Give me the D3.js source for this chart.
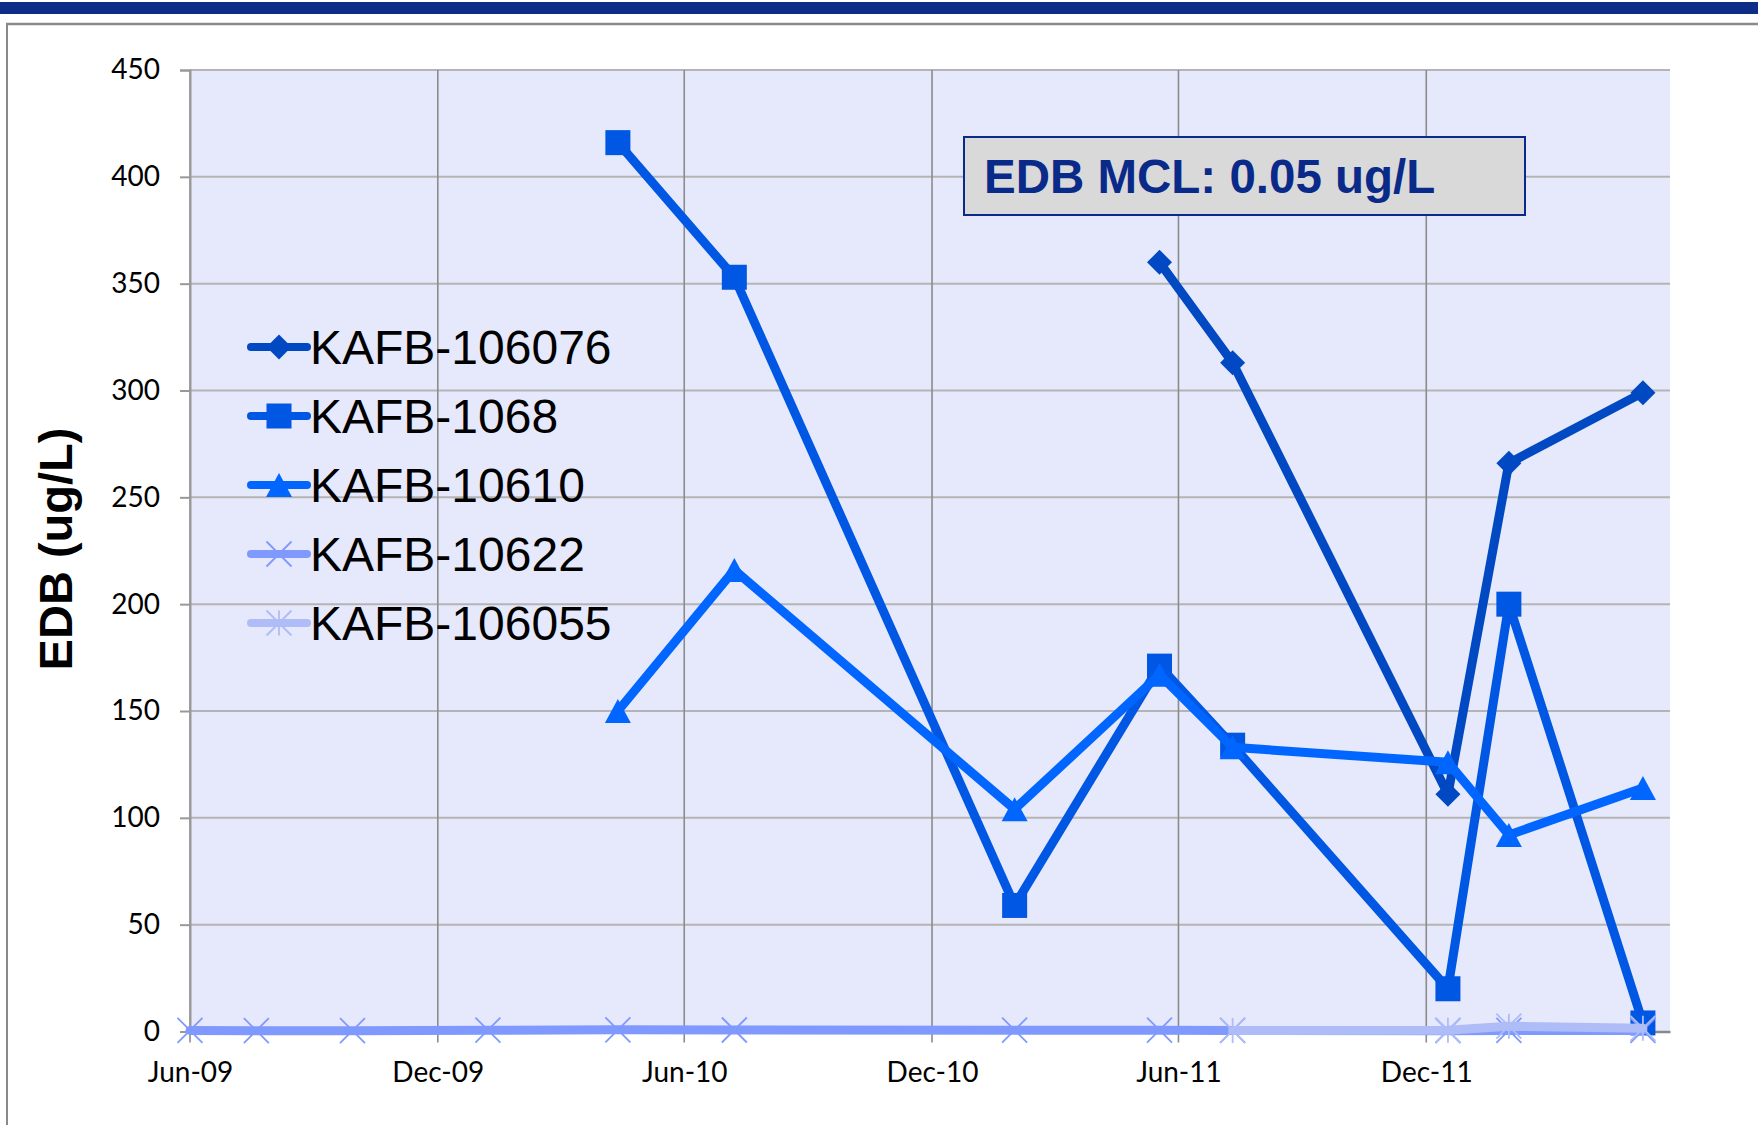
<!DOCTYPE html>
<html>
<head>
<meta charset="utf-8">
<script src="https://cdn.jsdelivr.net/npm/d3@7"></script>
<style>
html,body{margin:0;padding:0;background:#fff;}
svg{display:block;}
</style>
</head>
<body>
<svg id="chart" width="1758" height="1125"></svg>
<script>
// ---- data ----
const sampleDates = ["2009-06-01","2009-07-20","2009-09-29","2010-01-07","2010-04-13","2010-07-08",
                     "2011-01-31","2011-05-18","2011-07-11","2011-12-17","2012-01-31","2012-05-09"];
const seriesNames = ["KAFB-106076","KAFB-1068","KAFB-10610","KAFB-10622","KAFB-106055"];
const kafb106076 = [null,null,null,null,null,null,null,360,313,111,266,299];
const kafb1068   = [null,null,null,null,416,353,59,171,134,20,200,4];
const kafb10610  = [null,null,null,null,150,216,104,167,133,126,92,114];
const kafb10622  = [0.5,0.4,0.4,0.6,0.8,0.7,0.6,0.6,0.5,0.4,0.5,0.5];
const kafb106055 = [null,null,null,null,null,null,null,null,0.5,0.6,2.5,1.5];
const yTicks = [0,50,100,150,200,250,300,350,400,450];
const xTickDates = ["2009-06-01","2009-12-01","2010-06-01","2010-12-01","2011-06-01","2011-12-01"];
const yTitle = "EDB (ug/L)";
const noteText = "EDB MCL: 0.05 ug/L";

// ---- styles ----
const colors = ["#0049C2","#0057E3","#0066FF","#7F99FF","#AEBCF8"];
const markers = ["diamond","square","triangle","x","star"];

const svg = d3.select("#chart");
const parse = d3.timeParse("%Y-%m-%d");
const L = 190, R = 1670, T = 70, B = 1031.5;

// frame
svg.append("rect").attr("x",0).attr("y",2).attr("width",1758).attr("height",12).attr("fill","#0D2D87");
svg.append("line").attr("x1",6).attr("x2",1758).attr("y1",24).attr("y2",24).attr("stroke","#8a8a8a").attr("stroke-width",2.5);
svg.append("line").attr("x1",7).attr("x2",7).attr("y1",24).attr("y2",1125).attr("stroke","#8a8a8a").attr("stroke-width",2);

const x = d3.scaleTime().domain([parse("2009-06-01"), parse("2012-05-29")]).range([L, R]);
const y = d3.scaleLinear().domain([0, 450]).range([B, T]);

// plot bg
svg.append("rect").attr("x",L).attr("y",T).attr("width",R-L).attr("height",B-T).attr("fill","#E6E8FB");

// horizontal gridlines
svg.append("g").selectAll("line").data(yTicks.filter(v=>v>0)).join("line")
  .attr("x1",L).attr("x2",R).attr("y1",d=>y(d)).attr("y2",d=>y(d))
  .attr("stroke","#B4B4B4").attr("stroke-width",2);

// vertical gridlines (with ticks below axis)
const xt = xTickDates.map(parse);
svg.append("g").selectAll("line").data(xt).join("line")
  .attr("x1",d=>x(d)).attr("x2",d=>x(d)).attr("y1",T).attr("y2",B+11)
  .attr("stroke","#8C8C8C").attr("stroke-width",1.6);

// y axis
const yAxis = d3.axisLeft(y).tickValues(yTicks).tickSize(10).tickPadding(20).tickFormat(d3.format("d"));
const yg = svg.append("g").attr("transform",`translate(${L},0)`).call(yAxis);
yg.select(".domain").attr("stroke","#999").attr("stroke-width",2);
yg.selectAll(".tick line").attr("stroke","#999").attr("stroke-width",2);
yg.selectAll(".tick text").attr("font-family","Lato, 'Open Sans', sans-serif").attr("font-size",28).attr("fill","#000");

// x axis
const xAxis = d3.axisBottom(x).tickValues(xt).tickSize(0).tickPadding(31).tickFormat(d3.timeFormat("%b-%y"));
const xg = svg.append("g").attr("transform",`translate(0,${B})`).call(xAxis);
xg.select(".domain").attr("stroke","#888").attr("stroke-width",2.5);
xg.selectAll(".tick text").attr("font-family","Lato, 'Open Sans', sans-serif").attr("font-size",28).attr("fill","#000");

// y title
svg.append("text").attr("transform","translate(72,549) rotate(-90)")
  .attr("text-anchor","middle").attr("font-family","'Liberation Sans', Arial, sans-serif")
  .attr("font-weight","bold").attr("font-size",47).attr("fill","#000").text(yTitle);

// marker drawing
function drawMarker(g, type, cx, cy, color) {
  const s = 12.5;
  if (type === "diamond") {
    g.append("path").attr("d",`M${cx},${cy-s}L${cx+s},${cy}L${cx},${cy+s}L${cx-s},${cy}Z`).attr("fill",color);
  } else if (type === "square") {
    g.append("rect").attr("x",cx-s).attr("y",cy-s).attr("width",2*s).attr("height",2*s).attr("fill",color);
  } else if (type === "triangle") {
    g.append("path").attr("d",`M${cx},${cy-12}L${cx+13},${cy+12}L${cx-13},${cy+12}Z`).attr("fill",color);
  } else if (type === "x" || type === "star") {
    const p = `M${cx-s},${cy-s}L${cx+s},${cy+s}M${cx-s},${cy+s}L${cx+s},${cy-s}` + (type==="star" ? `M${cx},${cy-s}L${cx},${cy+s}` : "");
    g.append("path").attr("d",p).attr("stroke",color).attr("stroke-width",1.8).attr("fill","none");
  }
}

// series
const allSeries = [kafb106076,kafb1068,kafb10610,kafb10622,kafb106055];
const line = d3.line().defined(d=>d.v!=null).x(d=>x(d.date)).y(d=>y(d.v));
allSeries.forEach((vals,i)=>{
  const pts = vals.map((v,j)=>({date:parse(sampleDates[j]), v}));
  const g = svg.append("g");
  g.append("path").attr("d",line(pts)).attr("fill","none").attr("stroke",colors[i])
    .attr("stroke-width",9).attr("stroke-linejoin","round").attr("stroke-linecap","round");
  pts.filter(d=>d.v!=null).forEach(d=>drawMarker(g, markers[i], x(d.date), y(d.v), colors[i]));
});

// legend
const legY = [347, 416, 485, 554, 623];
seriesNames.forEach((name,i)=>{
  const g = svg.append("g");
  g.append("line").attr("x1",251).attr("x2",307).attr("y1",legY[i]).attr("y2",legY[i])
    .attr("stroke",colors[i]).attr("stroke-width",8).attr("stroke-linecap","round");
  drawMarker(g, markers[i], 279, legY[i], colors[i]);
  g.append("text").attr("x",310).attr("y",legY[i]+17).attr("font-family","'Liberation Sans', Arial, sans-serif")
    .attr("font-size",48).attr("fill","#000").text(name);
});

// note box
svg.append("rect").attr("x",964).attr("y",137).attr("width",561).attr("height",78)
  .attr("fill","#D9D9D9").attr("stroke","#0A2A8A").attr("stroke-width",2);
svg.append("text").attr("x",984).attr("y",193).attr("font-family","'Liberation Sans', Arial, sans-serif")
  .attr("font-weight","bold").attr("font-size",47.5).attr("fill","#0A2A8A").text(noteText);
</script>
</body>
</html>
